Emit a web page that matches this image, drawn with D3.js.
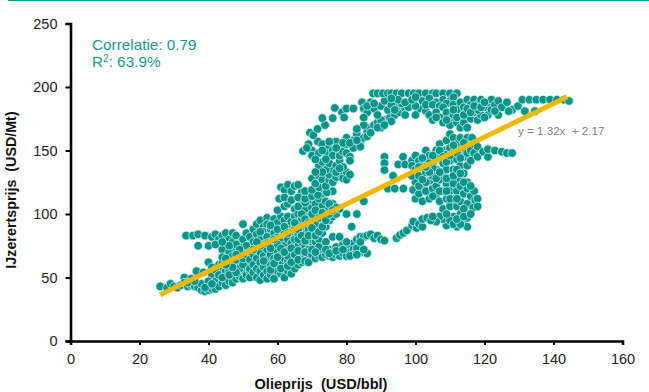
<!DOCTYPE html>
<html lang="en">
<head>
<meta charset="utf-8">
<title>Olieprijs vs IJzerertsprijs</title>
<script src="https://d3js.org/d3.v7.min.js"></script>
<style>
body { margin: 0; background: white; }
svg { display: block; font-family: "Liberation Sans", Arial, sans-serif; }
.tick text { font-size: 14.5px; fill: #222; }
</style>
</head>
<body>
<svg width="649" height="392"></svg>
<script>
const lowTail = [[26,43],[28,42],[29,45],[30,43],[31,42],[32,44],[33,50],[33,46],[34,43],[35,49],[35,44],[36,43],[37,42],[36.5,55],[38,40],[38,45],[38.5,54],[39,39],[40,40],[41,41],[41,52],[42,41],[42,47],[43,43],[43,60],[44,46],[44,57],[45,44],[45,51],[46,47],[46,60],[47,53],[47,46],[48,49],[48,58],[49,51],[49,62],[50,56],[50,49],[51,52],[51,60],[40,47],[40,62],[41,58],[42,56],[43,52],[44,61],[45,55],[46,55],[47,62],[48,64],[49,57],[34,46],[36,47],[39,42],[41,45],[44,50],[46,52],[48,54],[50,60],[52,55],[50,65],[47,58],[45,60]];
const upperLeftArm = [[33.5,83],[35.5,83],[37,84],[37,75],[39,83],[40,75],[41,82],[42,84],[43,80],[43,76],[44,83],[45,85],[45,73],[46,80],[47,78],[47,85],[48,83],[48,73],[49,77],[50,80],[50,92],[50,70],[51,85],[44,72],[46,70],[47,67],[49,68],[44,66],[45,65],[52,74],[52,82],[53,78],[48,76],[51,75],[46,75],[42,76],[44,78],[49,72],[51,68],[48,68],[52,70]];
const mainCloud = [[52,64],[52,57],[52,50],[53,68],[53,60],[53,54],[53,88],[54,92],[54,84],[54,73],[54,65],[54,57],[54,50],[55,95],[55,80],[55,70],[55,62],[55,55],[55,48],[56,90],[56,86],[56,76],[56,67],[56,58],[56,52],[57,97],[57,92],[57,82],[57,72],[57,64],[57,55],[57,49],[58,88],[58,78],[58,68],[58,60],[58,52],[59,96],[59,85],[59,74],[59,65],[59,57],[59,49],[60,93],[60,82],[60,71],[60,62],[60,55],[61,98],[61,88],[61,78],[61,68],[61,60],[61,53],[62,95],[62,85],[62,75],[62,65],[62,57],[62,50],[63,98],[63,90],[63,80],[63,71],[63,63],[63,55],[64,94],[64,86],[64,77],[64,68],[64,60],[64,53],[65,104],[65,98],[65,88],[65,80],[65,72],[65,64],[65,57],[66,100],[66,92],[66,84],[66,75],[66,67],[66,60],[67,108],[67,96],[67,88],[67,78],[67,70],[67,62],[68,104],[68,92],[68,84],[68,74],[68,66],[69,110],[69,98],[69,88],[69,78],[69,68],[70,115],[70,105],[70,94],[70,84],[70,74],[71,108],[71,98],[71,88],[71,78],[72,112],[72,102],[72,92],[72,80],[73,116],[73,106],[73,96],[73,85],[74,110],[74,100],[74,90],[75,104],[75,95],[76,108],[76,98],[77,100],[78,104],[55,75],[58,91],[60,76],[63,67],[66,80],[69,72],[71,92],[53,72],[54,78],[55,86],[56,63],[57,77],[58,73],[58,56],[59,80],[59,61],[60,88],[60,66],[61,73],[61,57],[62,90],[62,70],[63,85],[63,59],[64,73],[65,93],[65,68],[66,88],[66,71],[67,100],[67,83],[68,96],[68,79],[68,70],[69,93],[69,83],[70,100],[70,89],[71,103],[71,83],[72,97],[72,86],[73,101],[73,90],[74,95],[75,100],[75,108],[77,105],[76,103],[60,103],[62,106],[63,108],[66,106],[68,109]];
const lowerBand = [[64,62],[66,64],[68,63],[69,62],[70,68],[71,65],[72,67],[73,70],[73,66],[74,68],[75,72],[75,67],[76,70],[76,66],[77,74],[77,68],[78,70],[78,67],[79,76],[79,69],[80,72],[80,67],[81,75],[81,70],[82,77],[82,72],[82,68],[83,80],[83,70],[84,82],[84,74],[84,70],[85,82],[85,70],[86,83],[86,69],[87,84],[88,81],[89,83],[90,80],[91,79],[74,78],[76,82],[78,82],[72,74],[70,72],[71,70],[74,72],[75,69],[77,71],[79,72],[81,67],[83,73],[83,68],[85,72],[80,78],[84,78]];
const strayPoints = [[85,110],[80,100],[83,100],[81.5,90],[67.4,149.6],[94.5,81],[76,118]];
const midBranch = [[61,121],[62,119],[63,123],[64,118],[65,122],[66,123],[67,117],[60.5,112],[62,113],[64,111],[66,113],[68,112],[70,114],[71.7,115],[74.3,117],[68,118],[70,119],[72,121],[70,128],[71,124],[72,130],[73,127],[74,122],[75,127],[75,131],[76,125],[77,129],[78,132],[79,128],[80,133],[80,127],[76,135],[74,135],[72,138],[73,141],[75,140],[77,138],[78,142],[79,137],[81,131],[70,150],[71.7,157],[73,155],[75,153],[74,148],[76,150],[76,146],[77,157],[78,152],[78,146],[79,149],[80,155],[80,148],[81,145],[82,152],[69,155],[70,146],[72,148],[68.5,152],[81,142],[82,158],[84,157],[83,163],[85,160],[86,165],[87,168],[88,170],[89,172],[90,168],[91,174],[92.6,176],[94,178],[95.5,180],[93,173],[90,174],[85,170],[83,167],[80,160],[79,156],[84,153],[71,143],[74,143],[77,133],[73,133],[71,133],[78,136],[75,157],[77,152],[73,150],[81,156],[83,158],[86,161],[87,164],[89,168],[91,170]];
const upperStrand = [[69.4,164],[70.4,162],[71.6,167],[73.8,170],[73,175.5],[76,175.5],[76.6,183.5],[78.7,180],[79.3,176],[80,183],[82,183],[84.5,188],[87,188],[85,183],[86,180],[88,183],[90,185],[85,176],[89,178],[92,182],[95,185],[97,183],[99,188],[101,183],[100,178],[103,181],[86,185],[88,187],[91,189],[93,186],[94,182],[96,187],[97,178],[98,184],[100,185]];
const topBand = [[87.7,195],[89,195],[90.5,195],[92,195],[93,195],[94.5,195],[96,195],[98,195],[99.5,195],[101,195],[103,195],[105,195],[106,195],[108,195],[110,195],[112,195],[95,190],[97,188],[99,190],[102,189],[104,191],[106,188],[108,190],[110,189],[111,192],[93,191],[100,192],[103,186],[105,186],[107,185],[109,187]];
const rightTop = [[104,178],[105,174],[106,180],[107,176],[108,172],[108,184],[109,180],[110,175],[110,170],[111,186],[111,178],[112,172],[112,182],[113,188],[113,176],[113,168],[114,184],[114,172],[115,190],[115,178],[115,168],[116,186],[116,175],[117,190],[117,180],[118,174],[118,186],[119,190],[119,178],[120,184],[121,188],[121,178],[122,190],[122,182],[123,186],[124,189],[124,178],[125,184],[126.5,188],[128,182],[129.7,185],[131,190],[131.7,181],[133,190],[134.6,181],[135,190],[137,190],[139,190],[141,190],[143,190],[144.5,189],[118,182],[120,176],[106,176],[109,174],[111,182],[112,176],[114,178],[115,183],[116,180],[117,185],[119,184],[120,188],[123,181],[127,181]];
const rightCloud = [[91,145],[91,140],[91,134.6],[93.5,130],[92,120],[94,120],[96.5,120],[96.4,145],[95,139],[97,139],[99,142],[99,138],[100,146],[101,142],[102,138],[103,150],[103,143],[104,146],[105,140],[106,150],[106,135],[107,155],[107,145],[108,150],[108,140],[108,130],[109,158],[109,147],[109,135],[110,163],[110,152],[110,142],[110,128],[111,160],[111,148],[111,135],[112,155],[112,143],[112,122],[113,160],[113,150],[113,138],[113,127],[114,152],[114,145],[114,132],[115,160],[115,148],[115,138],[115,125],[116.4,160],[116,150],[116,142],[117,155],[117,148],[118,153],[118,145],[119.6,149],[121,145],[121,151],[123,150],[125,149],[126.5,148],[128,148],[99.3,119],[100,112],[100,125],[101,116],[102,122],[102,110],[103,118],[104,126],[104,112],[105,120],[105,130],[106,115],[106,122],[107,110],[107,127],[108,118],[108,104],[109,124],[109,112],[110,118],[110,106],[111,124],[111,112],[111,98],[112,118],[112,106],[113,122],[113,110],[113,100],[114,116],[114,94],[115,120],[115,108],[115,97],[115,90],[116,114],[116.7,105],[117.3,111],[112,90],[109,91],[108,96],[107,98],[106,94],[110,95],[111,92],[113,92],[105,146],[107,150],[108,145],[109,141],[110,146],[111,154],[112,148],[113,144],[114,156],[105,136],[106,128],[107,133],[109,128],[111,130],[112,135],[113,132],[114,125],[101,122],[103,125],[105,114],[107,118],[109,118],[110,112],[112,112],[114,104],[109,100],[112,96],[114,98],[104,140],[102,144],[99,130],[100,135],[101,130],[102,127],[103,133],[104,133],[101,137],[103,137],[117,118],[116,122],[118,112],[118,106],[116,100]];
const lowerRightStrand = [[95.5,83.5],[96.5,85],[97.5,87],[99,91],[100.3,89],[99.4,94],[101,92],[102,90],[102,96],[103.4,97],[104.5,95],[105,98]];

const allPoints = [lowTail, upperLeftArm, mainCloud, lowerBand, strayPoints, midBranch, upperStrand, topBand, rightTop, rightCloud, lowerRightStrand].flat();

const xTicks = [0, 20, 40, 60, 80, 100, 120, 140, 160];
const yTicks = [0, 50, 100, 150, 200, 250];
const slope = 1.32;
const intercept = 2.17;
const fitRange = [26, 144];

const svg = d3.select("svg");
const x = d3.scaleLinear().domain([0, 160]).range([70.5, 622.5]);
const y = d3.scaleLinear().domain([0, 250]).range([341, 23.5]);

// thin rule along the top of the slide
svg.append("rect").attr("x", 8).attr("y", 0).attr("width", 641).attr("height", 1).attr("fill", "#00958a");

svg.append("g").selectAll("circle")
    .data(allPoints)
    .enter()
    .append("circle")
    .attr("cx", d => x(d[0]))
    .attr("cy", d => y(d[1]))
    .attr("r", 4.3)
    .style("fill", "#00958a")
    .style("stroke", "#d8eeeb")
    .style("stroke-width", 0.8);

svg.append("line")
    .attr("x1", x(fitRange[0]))
    .attr("y1", y(slope * fitRange[0] + intercept))
    .attr("x2", x(fitRange[1]))
    .attr("y2", y(slope * fitRange[1] + intercept))
    .style("stroke", "#f0b900")
    .style("stroke-width", 5);

const xAxis = svg.append("g")
    .attr("transform", "translate(0,341)")
    .call(d3.axisBottom(x).tickValues(xTicks).tickSize(4).tickPadding(9));
const yAxis = svg.append("g")
    .attr("transform", "translate(70.5,0)")
    .call(d3.axisLeft(y).tickValues(yTicks).tickSize(5).tickPadding(8));
svg.selectAll(".domain").style("stroke", "#000").style("stroke-width", 2.6);
svg.selectAll(".tick line").style("stroke", "#000").style("stroke-width", 2);

svg.append("text")
    .attr("x", 321).attr("y", 389)
    .attr("text-anchor", "middle")
    .style("font-size", "14.6px").style("font-weight", "bold").style("fill", "#111")
    .attr("xml:space", "preserve")
    .text("Olieprijs  (USD/bbl)");

svg.append("text")
    .attr("transform", "translate(16,190) rotate(-90)")
    .attr("text-anchor", "middle")
    .style("font-size", "14.3px").style("font-weight", "bold").style("fill", "#111")
    .attr("xml:space", "preserve")
    .text("IJzerertsprijs  (USD/Mt)");

const note = svg.append("text").style("font-size", "15.3px").style("fill", "#1a9a8f");
note.append("tspan").attr("x", 92).attr("y", 50).text("Correlatie: 0.79");
const r2 = svg.append("text").attr("x", 92).attr("y", 67).style("font-size", "15.3px").style("fill", "#1a9a8f");
r2.append("tspan").text("R");
r2.append("tspan").attr("dy", -5).style("font-size", "10px").text("2");
r2.append("tspan").attr("dy", 5).text(": 63.9%");

svg.append("text")
    .attr("x", 518).attr("y", 135)
    .attr("xml:space", "preserve")
    .style("font-size", "11.6px").style("fill", "#7f7f7f")
    .text("y = 1.32x  + 2.17");
</script>
</body>
</html>
